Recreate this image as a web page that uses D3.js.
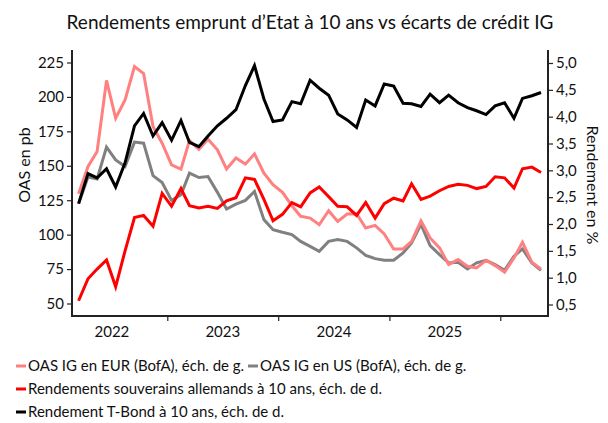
<!DOCTYPE html>
<html>
<head>
<meta charset="utf-8">
<script src="https://cdn.jsdelivr.net/npm/d3@7"></script>
<style>
  body { margin: 0; background: #fff; }
  text { font-family: Lato, "Open Sans", sans-serif; fill: #111; }
</style>
</head>
<body>
<div id="chart"></div>
<script>
// monthly data, mid-month, march 2022 -> may 2026
var startMonth = new Date(2022, 2, 15);
var nMonths = 51;

var oasEur = [129.7, 149.5, 160.4, 212, 184.5, 197.8, 222, 217, 178.5, 166.4, 150.7, 147.6, 168.3,
  162, 169.3, 161.6, 147.6, 155.6, 151.2, 158.7, 144.7, 136.2, 130.7, 121, 113.3,
  112, 107.2, 117.4, 109.6, 115, 115.2, 104.8, 106.7, 100.5, 89.6, 89.6, 95.1, 110,
  97.6, 90.4, 78.3, 81.9, 77, 75.8, 81.4, 77.5, 72.7, 83.1, 94.4, 79.9, 75.1];

var oasUs = [122.5, 141.8, 140.4, 163.5, 154.3, 149.5, 167.2, 166.4, 142.8, 137.9, 124.9, 129, 144.7,
  141.5, 142.2, 130.7, 118.6, 122.2, 124.9, 131.4, 110.9, 103.6, 101.7, 100, 95.1,
  91.5, 87.9, 95.1, 96.4, 95.1, 90.4, 85, 82.6, 81.4, 81.4, 86.7, 94, 107.5,
  92, 85.5, 79.5, 80, 75.1, 79.5, 81.4, 78.3, 74.1, 84.3, 89.6, 79.5, 74.1];

var bund10 = [0.57, 0.98, 1.16, 1.33, 0.83, 1.5, 2.12, 2.16, 1.96, 2.57, 2.33, 2.66, 2.34,
  2.30, 2.33, 2.29, 2.43, 2.49, 2.86, 2.83, 2.46, 2.06, 2.18, 2.40, 2.32,
  2.58, 2.69, 2.51, 2.33, 2.32, 2.16, 2.40, 2.11, 2.38, 2.48, 2.43, 2.75, 2.46,
  2.52, 2.62, 2.70, 2.74, 2.72, 2.66, 2.70, 2.88, 2.86, 2.67, 3.03, 3.06, 2.96];

var tbond10 = [2.38, 2.94, 2.86, 3.03, 2.69, 3.14, 3.83, 4.06, 3.64, 3.89, 3.56, 3.93, 3.52,
  3.44, 3.64, 3.83, 3.97, 4.13, 4.58, 4.95, 4.33, 3.91, 3.94, 4.28, 4.24,
  4.68, 4.53, 4.40, 4.05, 3.94, 3.80, 4.31, 4.20, 4.61, 4.57, 4.25, 4.24, 4.19,
  4.42, 4.26, 4.40, 4.26, 4.17, 4.11, 4.04, 4.20, 4.26, 3.97, 4.34, 4.39, 4.45];

var leftTicks = [50, 75, 100, 125, 150, 175, 200, 225];
var rightTicks = [0.5, 1, 1.5, 2, 2.5, 3, 3.5, 4, 4.5, 5];
var yearLabels = [2022, 2023, 2024, 2025];
var yearBounds = [2023, 2024, 2025, 2026];

var labels = {
  eur: "OAS IG en EUR (BofA), éch. de g.",
  us: "OAS IG en US (BofA), éch. de g.",
  bund: "Rendements souverains allemands à 10 ans, éch. de d.",
  tbond: "Rendement T-Bond à 10 ans, éch. de d."
};

var svgWidth = 608, svgHeight = 423;
var plot = { left: 72, right: 548, top: 50, bottom: 316 };

var dates = d3.range(nMonths).map(function(i) {
  return new Date(startMonth.getFullYear(), startMonth.getMonth() + i, 15);
});

var svg = d3.select("#chart").append("svg")
  .attr("width", svgWidth)
  .attr("height", svgHeight);

var x = d3.scaleTime()
  .domain([new Date(2023, 0, 1), new Date(2026, 0, 1)])
  .range([167.3, 500.3]);

var yLeft = d3.scaleLinear().domain([50, 225]).range([303.5, 62.5]);
var yRight = d3.scaleLinear().domain([0.5, 5]).range([304.5, 63]);

var fmtComma = function(d) { return d3.format(".1f")(d).replace(".", ","); };

// axes
var leftAxis = svg.append("g")
  .attr("transform", "translate(" + plot.left + ",0)")
  .call(d3.axisLeft(yLeft).tickValues(leftTicks).tickSize(5).tickPadding(3));

var rightAxis = svg.append("g")
  .attr("transform", "translate(" + plot.right + ",0)")
  .call(d3.axisRight(yRight).tickValues(rightTicks).tickSize(5).tickPadding(3).tickFormat(fmtComma));

var bottomTicks = svg.append("g")
  .attr("transform", "translate(0," + plot.bottom + ")")
  .call(d3.axisBottom(x).tickValues(yearBounds.map(function(y) { return new Date(y, 0, 1); }))
    .tickSize(5).tickFormat(""));

var bottomLabels = svg.append("g")
  .attr("transform", "translate(0," + plot.bottom + ")")
  .call(d3.axisBottom(x).tickValues(yearLabels.map(function(y) { return new Date(y, 6, 1); }))
    .tickSize(0).tickPadding(10).tickFormat(function(d) { return d.getFullYear(); }));

[leftAxis, rightAxis, bottomTicks, bottomLabels].forEach(function(g) {
  g.select(".domain").remove();
  g.selectAll("line").attr("stroke", "#222").attr("stroke-width", 1.2);
  g.selectAll("text").style("font-size", "15px").attr("fill", "#111")
    .style("font-family", "Lato, 'Open Sans', sans-serif");
});

// frame: left, bottom, right
svg.append("path")
  .attr("d", "M" + plot.left + "," + plot.top + "V" + plot.bottom + "H" + plot.right + "V" + plot.top)
  .attr("fill", "none")
  .attr("stroke", "#222")
  .attr("stroke-width", 2);

// lines
function addLine(values, yScale, color) {
  var line = d3.line()
    .x(function(d, i) { return x(dates[i]); })
    .y(function(d) { return yScale(d); });
  svg.append("path")
    .datum(values)
    .attr("d", line)
    .attr("fill", "none")
    .attr("stroke", color)
    .attr("stroke-width", 3)
    .attr("stroke-linejoin", "miter");
}

addLine(oasUs, yLeft, "#808080");
addLine(oasEur, yLeft, "#ff8080");
addLine(bund10, yRight, "#ff0000");
addLine(tbond10, yRight, "#000000");

// title
svg.append("text")
  .attr("x", 310)
  .attr("y", 29)
  .attr("text-anchor", "middle")
  .style("font-size", "19px")
  .text("Rendements emprunt d’Etat à 10 ans vs écarts de crédit IG");

// axis titles
svg.append("text")
  .attr("transform", "translate(30,165) rotate(-90)")
  .attr("text-anchor", "middle")
  .style("font-size", "16px")
  .text("OAS en pb");

svg.append("text")
  .attr("transform", "translate(587,185) rotate(90)")
  .attr("text-anchor", "middle")
  .style("font-size", "16px")
  .text("Rendement en %");

// legend
var legendItems = [
  { x: 16, y: 366, color: "#ff8080", text: labels.eur },
  { x: 248, y: 366, color: "#808080", text: labels.us },
  { x: 16, y: 389, color: "#ff0000", text: labels.bund },
  { x: 16, y: 412, color: "#000000", text: labels.tbond }
];

var legend = svg.append("g");
legendItems.forEach(function(item) {
  legend.append("line")
    .attr("x1", item.x).attr("x2", item.x + 10)
    .attr("y1", item.y).attr("y2", item.y)
    .attr("stroke", item.color)
    .attr("stroke-width", 3);
  legend.append("text")
    .attr("x", item.x + 12)
    .attr("y", item.y + 5)
    .style("font-size", "15px")
    .text(item.text);
});
</script>
</body>
</html>
